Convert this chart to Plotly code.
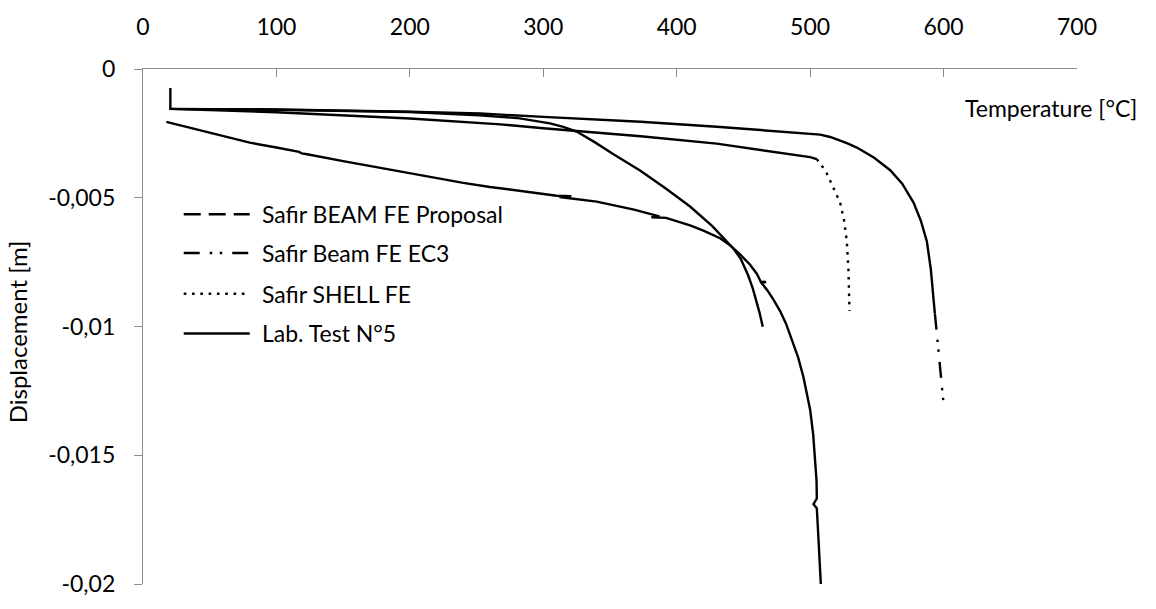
import plotly.graph_objects as go

# ---------------- data ----------------
T_proposal = [20.5, 20.5, 100, 200, 252, 280, 305, 315, 325, 332, 338.8, 352.3, 372.5, 391.3, 410, 426.5, 442.3, 448, 453.5, 457, 459.5, 462, 464.5]
D_proposal = [-0.00074, -0.00155, -0.00158, -0.00167, -0.0018, -0.0019, -0.00211, -0.00225, -0.00243, -0.00263, -0.00285, -0.0033, -0.00394, -0.00462, -0.00534, -0.00609, -0.00696, -0.00737, -0.00801, -0.00852, -0.00896, -0.00945, -0.01001]

T_ec3 = [20.5, 100, 200, 252.5, 300, 373, 430, 477.5, 495, 507.5, 515, 522.5, 528, 535, 548, 560, 569, 577.5, 583, 587.5, 590.5, 592.5, 593.5, 595.3, 597, 598.7, 600]
D_ec3 = [-0.00155, -0.00157, -0.00166, -0.00173, -0.00186, -0.00205, -0.00224, -0.00243, -0.00249, -0.00255, -0.00264, -0.00278, -0.00289, -0.00305, -0.00345, -0.00393, -0.00445, -0.00519, -0.0059, -0.0067, -0.0078, -0.00896, -0.0095, -0.0104, -0.0113, -0.0122, -0.013]

T_shell = [20.5, 100, 200, 268, 300, 373, 430, 477.5, 495, 500, 505, 508, 512.5, 517, 522.5, 525.5, 527.5, 528.7, 529.3, 529.5]
D_shell = [-0.00155, -0.00168, -0.00192, -0.00215, -0.0023, -0.00261, -0.0029, -0.00324, -0.00337, -0.00342, -0.0035, -0.0037, -0.00406, -0.0046, -0.00519, -0.0059, -0.0067, -0.0078, -0.00883, -0.0094]

T_lab = [17.5, 40, 60, 80, 100, 117, 119, 123, 150, 180, 210, 240, 260, 290, 310, 321, 312, 340, 368, 387, 381, 392, 402.5, 410, 420, 432.5, 440, 447.5, 455, 460, 463, 467, 463.5, 468, 472.5, 477.5, 482, 486, 491, 495, 500, 502.3, 503.8, 504.8, 505, 502.5, 505, 505.6, 506.3, 507.2, 508]
D_lab = [-0.00205, -0.00234, -0.0026, -0.00286, -0.00305, -0.00322, -0.00328, -0.00331, -0.00358, -0.00387, -0.00414, -0.00442, -0.00458, -0.00478, -0.00492, -0.00494, -0.00497, -0.00515, -0.00546, -0.00572, -0.00576, -0.00578, -0.00594, -0.00607, -0.00628, -0.00657, -0.00685, -0.0072, -0.0076, -0.00795, -0.00826, -0.00827, -0.0083, -0.0086, -0.00896, -0.0094, -0.0099, -0.0105, -0.0112, -0.01197, -0.01323, -0.0142, -0.0151, -0.016, -0.01668, -0.0169, -0.01706, -0.0175, -0.0183, -0.0192, -0.02]

x_ticks = [0, 100, 200, 300, 400, 500, 600, 700]
x_ticktext = ["0", "100", "200", "300", "400", "500", "600", "700"]
y_ticks = [0, -0.005, -0.01, -0.015, -0.02]
y_ticktext = ["0", "-0,005", "-0,01", "-0,015", "-0,02"]

names = ["Safir BEAM FE Proposal", "Safir Beam FE EC3", "Safir SHELL FE", "Lab. Test N°5"]

# ---------------- styling ----------------
W, H = 1156, 609
L, R, T, B = 143.3, 1156 - 1076.7, 62.3, 609 - 593.3
FONT = "Lato"
FS = 23
LW = 2.4
AXC = "#8c8c8c"

dash_styles = {
    "Safir BEAM FE Proposal": "17px,8px",
    "Safir Beam FE EC3": "16px,10px,2.5px,7.5px,2.5px,10px",
    "Safir SHELL FE": "2.6px,5.7px",
    "Lab. Test N°5": "solid",
}
# dense parts of the curves render as continuous lines; the sparse tail shows the dash
tail_start = {"Safir BEAM FE Proposal": None, "Safir Beam FE EC3": 22, "Safir SHELL FE": 10, "Lab. Test N°5": None}

series = [(names[0], T_proposal, D_proposal), (names[1], T_ec3, D_ec3),
          (names[2], T_shell, D_shell), (names[3], T_lab, D_lab)]

fig = go.Figure()
for nm, xs, ys in series:
    k = tail_start[nm]
    if k is None:
        fig.add_trace(go.Scatter(x=xs, y=ys, mode="lines", name=nm, showlegend=False,
                                 line=dict(color="black", width=LW)))
    else:
        fig.add_trace(go.Scatter(x=xs[:k + 1], y=ys[:k + 1], mode="lines", name=nm, showlegend=False,
                                 line=dict(color="black", width=LW)))
        fig.add_trace(go.Scatter(x=xs[k:], y=ys[k:], mode="lines", name=nm, showlegend=False,
                                 line=dict(color="black", width=LW, dash=dash_styles[nm])))

PW = W - L - R
PH = H - T - B


def px(xp):
    return (xp - L) / PW


def py(yp):
    return (H - B - yp) / PH


# custom legend (long line samples as in the reference)
leg_rows = [212, 252, 294, 335]
for nm, yr in zip(names, leg_rows):
    fig.add_shape(type="line", xref="paper", yref="paper", x0=px(184), x1=px(250), y0=py(yr), y1=py(yr),
                  line=dict(color="black", width=LW, dash=dash_styles[nm]))
    fig.add_annotation(xref="paper", yref="paper", x=px(260), y=py(yr), text=nm, showarrow=False,
                       xanchor="left", yanchor="middle", font=dict(family=FONT, size=FS, color="black"))

fig.add_annotation(xref="paper", yref="paper", x=px(1139), y=py(103), text="Temperature [°C]",
                   showarrow=False, xanchor="right", yanchor="middle",
                   font=dict(family=FONT, size=FS, color="black"))
fig.add_annotation(xref="paper", yref="paper", x=px(18), y=0.49, text="Displacement [m]", textangle=-90,
                   showarrow=False, xanchor="center", yanchor="middle",
                   font=dict(family=FONT, size=FS + 1, color="black"))

fig.update_layout(
    width=W, height=H,
    margin=dict(l=L, r=R, t=T, b=B, pad=0),
    paper_bgcolor="white", plot_bgcolor="white",
    font=dict(family=FONT, size=FS, color="black"),
    showlegend=False,
)
fig.update_xaxes(range=[0, 700], side="top", tickvals=x_ticks, ticktext=x_ticktext,
                 ticks="inside", ticklen=8, tickwidth=1.3, tickcolor=AXC,
                 showline=True, linecolor=AXC, linewidth=1.3, showgrid=False, zeroline=False,
                 ticklabelstandoff=24, tickfont=dict(family=FONT, size=FS, color="black"))
fig.update_yaxes(range=[-0.02, 0], tickvals=y_ticks, ticktext=y_ticktext,
                 ticks="outside", ticklen=8, tickwidth=1.3, tickcolor=AXC,
                 showline=True, linecolor=AXC, linewidth=1.3, showgrid=False, zeroline=False,
                 ticklabelstandoff=14, tickfont=dict(family=FONT, size=FS, color="black"))

fig.write_html("out.html")
